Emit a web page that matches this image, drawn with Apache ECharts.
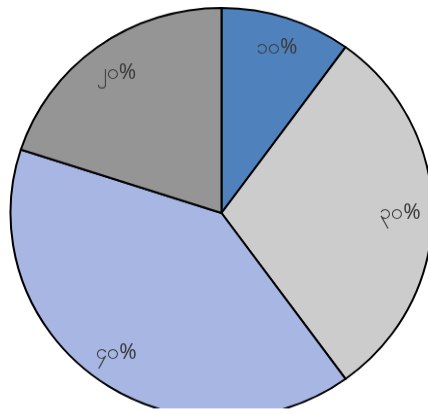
<!DOCTYPE html>
<html>
<head>
<meta charset="utf-8">
<script src="https://cdn.jsdelivr.net/npm/echarts@6/dist/echarts.min.js"></script>
<style>
  html, body { margin: 0; padding: 0; background: #ffffff; }
  #wrap { width: 428px; height: 414px; overflow: hidden; }
  /* pie is slightly flattened vertically */
  #chart { width: 428px; height: 414px; transform: scaleY(0.972); transform-origin: 221.5px 213px; }
</style>
</head>
<body>
<div id="wrap"><div id="chart"></div></div>
<script>
// Slice shares (percent), drawn clockwise from 12 o'clock
const categories = ['A', 'B', 'C', 'D'];
const values = [10, 30, 40, 20];
const labels = ['၁၀%', '၃၀%', '၄၀%', '၂၀%'];
const colors = ['#4F81BD', '#CCCCCC', '#A7B6E2', '#959595'];

const slices = categories.map((name, i) => ({
  name: name,
  value: values[i],
  itemStyle: { color: colors[i] }
}));

const labelRing = categories.map((name, i) => ({
  name: name,
  value: values[i],
  label: { formatter: labels[i] }
}));

const chart = echarts.init(document.getElementById('chart'), null, { renderer: 'canvas' });
chart.setOption({
  animation: false,
  series: [
    {
      type: 'pie',
      center: [221.5, 213],
      radius: [0, 211],
      startAngle: 90,
      clockwise: true,
      silent: true,
      label: { show: false },
      labelLine: { show: false },
      itemStyle: { borderColor: '#000000', borderWidth: 2 },
      data: slices
    },
    {
      // transparent ring carrying the value labels
      type: 'pie',
      center: [221.5, 213],
      radius: [140, 211],
      startAngle: 90,
      clockwise: true,
      silent: true,
      itemStyle: { color: 'rgba(0,0,0,0)', borderWidth: 0 },
      labelLine: { show: false },
      label: {
        show: true,
        position: 'inside',
        rotate: 0,
        color: '#3c3c3c',
        fontSize: 21,
        fontFamily: 'Noto Sans, DejaVu Sans, sans-serif'
      },
      data: labelRing
    }
  ]
});
</script>
</body>
</html>
